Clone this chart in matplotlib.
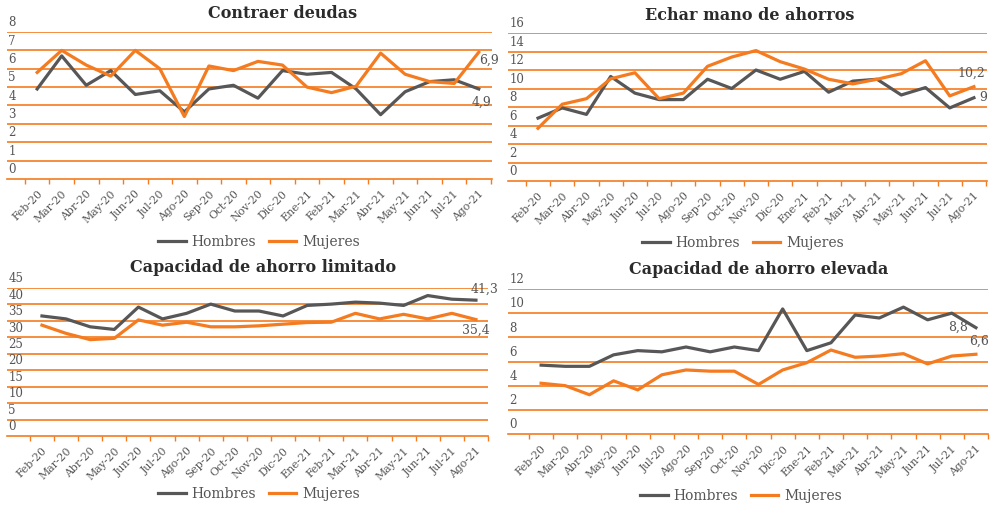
import numpy as np
import matplotlib
matplotlib.use("Agg")
import matplotlib.pyplot as plt

plt.rcParams['font.family'] = ['DejaVu Serif']

meses = ['Feb-20', 'Mar-20', 'Abr-20', 'May-20', 'Jun-20', 'Jul-20', 'Ago-20',
         'Sep-20', 'Oct-20', 'Nov-20', 'Dic-20', 'Ene-21', 'Feb-21', 'Mar-21',
         'Abr-21', 'May-21', 'Jun-21', 'Jul-21', 'Ago-21']

# Contraer deudas
deudas_h = [4.9, 6.7, 5.1, 5.9, 4.6, 4.8, 3.65, 4.9, 5.1, 4.4, 5.9, 5.7, 5.8,
            4.9, 3.5, 4.75, 5.3, 5.4, 4.9]
deudas_m = [5.8, 7.0, 6.2, 5.6, 7.0, 6.0, 3.4, 6.15, 5.9, 6.4, 6.2, 5.0, 4.7,
            5.05, 6.85, 5.7, 5.3, 5.2, 6.9]

# Echar mano de ahorros
ahorros_h = [6.8, 7.9, 7.2, 11.3, 9.5, 8.8, 8.8, 11.0, 10.0, 12.0, 11.0, 11.85,
             9.6, 10.8, 11.0, 9.3, 10.1, 7.9, 9.0]
ahorros_m = [5.7, 8.3, 8.9, 11.05, 11.7, 8.9, 9.5, 12.4, 13.4, 14.1, 12.9, 12.1,
             11.0, 10.5, 11.0, 11.6, 13.0, 9.2, 10.2]

# Capacidad de ahorro limitado
limitado_h = [36.5, 35.6, 33.2, 32.4, 39.2, 35.6, 37.3, 40.1, 38.0, 38.0, 36.5,
              39.7, 40.1, 40.7, 40.4, 39.7, 42.7, 41.6, 41.3]
limitado_m = [33.7, 31.2, 29.3, 29.7, 35.3, 33.7, 34.6, 33.2, 33.2, 33.5, 34.0,
              34.5, 34.6, 37.3, 35.6, 37.0, 35.6, 37.3, 35.4]

# Capacidad de ahorro elevada
elevada_h = [5.7, 5.6, 5.6, 6.55, 6.9, 6.8, 7.2, 6.8, 7.2, 6.9, 10.35, 6.9, 7.55,
             9.85, 9.6, 10.5, 9.45, 10.0, 8.8]
elevada_m = [4.2, 4.0, 3.25, 4.4, 3.65, 4.9, 5.3, 5.2, 5.2, 4.1, 5.3, 5.9, 6.95,
             6.35, 6.45, 6.65, 5.8, 6.45, 6.6]

naranja = '#F47B20'
gris = '#575757'
texto = '#555555'

W, H = 991, 509
fig = plt.figure(figsize=(W / 100, H / 100), dpi=100)

paneles = [
    # titulo, hombres, mujeres, ymax, paso, caja px (izq, der, arriba, abajo), xlim, titulo xy, leyenda xy
    ('Contraer deudas', deudas_h, deudas_m, 8, 1, (7, 492, 32, 179), (-1.23, 18.54), (283, 13), (259, 242)),
    ('Echar mano de ahorros', ahorros_h, ahorros_m, 16, 2, (508, 987, 33, 181), (-1.24, 18.54), (750, 15), (743, 243)),
    ('Capacidad de ahorro limitado', limitado_h, limitado_m, 45, 5, (7, 488, 288, 436), (-1.45, 18.5), (263, 268), (259, 494)),
    ('Capacidad de ahorro elevada', elevada_h, elevada_m, 12, 2, (508, 988, 289, 434), (-1.37, 18.5), (759, 269), (741, 496)),
]

etiquetas = [
    # (serie, texto, desplazamiento en puntos, ha, va)
    [(0, '4,9', (2, -5), 'center', 'top'), (1, '6,9', (0, -1), 'left', 'top')],
    [(0, '9', (4, 0), 'left', 'center'), (1, '10,2', (-2, 5), 'center', 'bottom')],
    [(0, '41,3', (-4, 3), 'left', 'bottom'), (1, '35,4', (0, -3), 'center', 'top')],
    [(0, '8,8', (-6, 0), 'right', 'center'), (1, '6,6', (2, 5), 'center', 'bottom')],
]

x = np.arange(len(meses))

for (titulo, hom, muj, ymax, paso, caja, xlim, tpos, lpos), etqs in zip(paneles, etiquetas):
    izq, der, arr, aba = caja
    ax = fig.add_axes([izq / W, 1 - aba / H, (der - izq) / W, (aba - arr) / H])
    ax.set_xlim(*xlim)
    ax.set_ylim(0, ymax)
    for s in ['top', 'right', 'left']:
        ax.spines[s].set_visible(False)
    ax.spines['bottom'].set_color(naranja)
    ax.spines['bottom'].set_linewidth(1.2)
    ax.set_yticks([])
    for v in np.arange(paso, ymax + paso / 2, paso):
        ax.axhline(v, color=naranja, lw=1.2, zorder=1)
    for v in np.arange(0, ymax + paso / 2, paso):
        ax.annotate('%g' % v, xy=(0.0, v), xycoords=('axes fraction', 'data'),
                    xytext=(1, 2), textcoords='offset points', ha='left', va='bottom',
                    fontsize=8.5, color=texto)

    l1, = ax.plot(x, hom, color=gris, lw=2.3, label='Hombres', zorder=3)
    l2, = ax.plot(x, muj, color=naranja, lw=2.3, label='Mujeres', zorder=4)

    ax.set_xticks(x)
    ax.set_xticklabels(meses, rotation=45, ha='right', rotation_mode='anchor',
                       fontsize=7.8, color=texto)
    ax.tick_params(axis='x', which='major', length=0, pad=7)
    ax.set_xticks(np.arange(-0.5, len(meses)), minor=True)
    ax.tick_params(axis='x', which='minor', length=3.5, color=naranja, width=1)

    series = [hom, muj]
    for idx, txt, off, ha, va in etqs:
        ax.annotate(txt, xy=(x[-1], series[idx][-1]), xytext=off, textcoords='offset points',
                    ha=ha, va=va, fontsize=9, color=texto)

    fig.text(tpos[0] / W, 1 - tpos[1] / H, titulo, ha='center', va='center',
             fontsize=11.5, fontweight='bold', color='#2b2b2b')

    fig.legend(handles=[l1, l2], loc='center', bbox_to_anchor=(lpos[0] / W, 1 - lpos[1] / H),
               ncol=2, frameon=False, fontsize=10, handlelength=2.0, handletextpad=0.4,
               columnspacing=0.9, labelcolor=texto)

fig.savefig('out.png', dpi=100)
